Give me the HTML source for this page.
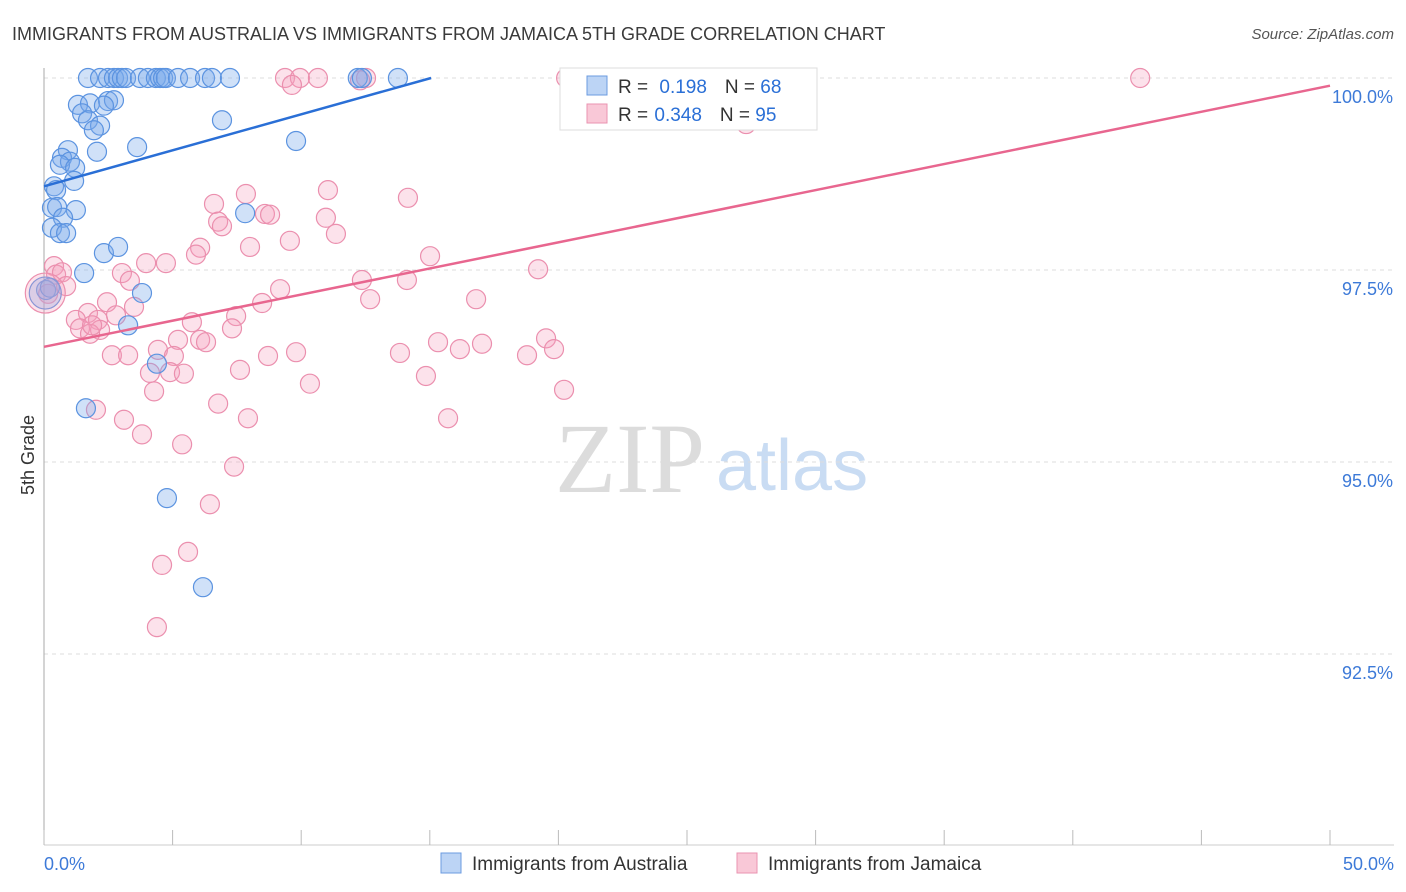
<!DOCTYPE html>
<html><head><meta charset="utf-8">
<style>
body{margin:0;background:#fff;font-family:"Liberation Sans",sans-serif;}
svg{display:block}
</style></head>
<body>
<svg id="chart" width="1406" height="892" viewBox="0 0 1406 892" xmlns="http://www.w3.org/2000/svg">
<text x="12" y="40" font-size="18" fill="#3a3a3a">IMMIGRANTS FROM AUSTRALIA VS IMMIGRANTS FROM JAMAICA 5TH GRADE CORRELATION CHART</text>
<text x="1394" y="39" font-size="15" fill="#555" font-style="italic" text-anchor="end">Source: ZipAtlas.com</text>
<text x="34" y="455" font-size="18" fill="#333" transform="rotate(-90 34 455)" text-anchor="middle">5th Grade</text>
<g>
<text x="555" y="492" font-size="100" font-family="Liberation Serif,serif" fill="#dcdcdc">ZIP</text>
<text x="716" y="490" font-size="72" fill="#c9dcf3">atlas</text>
</g>
<g id="grid"></g>
<g id="axes"></g>
<g id="pts"></g>
<g id="lines"></g>
<g>
<rect x="560" y="68" width="257" height="62" fill="#fff" stroke="#ddd"/>
<rect x="587" y="76" width="20" height="19" fill="#bcd4f5" stroke="#6b9be0"/>
<rect x="587" y="104" width="20" height="19" fill="#f9c8d7" stroke="#ea93b0"/>
<text x="618" y="93" font-size="19" fill="#333">R = <tspan fill="#2a6fd6" dx="6">0.198</tspan><tspan dx="18" fill="#333">N = </tspan><tspan fill="#2a6fd6">68</tspan></text>
<text x="618" y="121" font-size="19" fill="#333">R = <tspan fill="#2a6fd6" dx="1">0.348</tspan><tspan dx="18" fill="#333">N = </tspan><tspan fill="#2a6fd6">95</tspan></text>
</g>
<g>
<rect x="441" y="853" width="20" height="20" fill="#bcd4f5" stroke="#6b9be0"/>
<text x="472" y="870" font-size="19" fill="#333">Immigrants from Australia</text>
<rect x="737" y="853" width="20" height="20" fill="#f9c8d7" stroke="#ea93b0"/>
<text x="768" y="870" font-size="19" fill="#333">Immigrants from Jamaica</text>
</g>
</svg>
<script>
const yTicks=[100,97.5,95,92.5];
const yTickLabels=["100.0%","97.5%","95.0%","92.5%"];
const xTickLabels=["0.0%","50.0%"];
const blueX=[1.71,2.18,2.49,2.72,2.88,3.03,3.19,3.73,4.04,4.35,4.51,4.63,4.74,5.21,5.68,6.26,6.53,7.23,12.2,12.36,13.76,
1.32,1.79,1.48,1.71,2.49,2.72,2.33,2.18,1.94,2.06,0.93,0.70,1.01,0.62,1.21,1.17,0.39,0.47,0.31,0.51,1.24,0.74,0.31,0.62,0.86,3.62,6.92,9.80,2.33,2.88,3.81,1.56,3.27,0.08,0.23,4.39,1.63,4.78,6.18,7.82];
const blueY=[100,100,100,100,100,100,100,100,100,100,100,100,100,100,100,100,100,100,100,100,100,
99.65,99.67,99.54,99.45,99.70,99.71,99.64,99.38,99.32,99.04,99.06,98.96,98.91,98.87,98.83,98.66,98.59,98.54,98.31,98.32,98.28,98.18,98.05,97.98,97.98,99.10,99.45,99.18,97.72,97.80,97.20,97.46,96.78,97.24,97.27,96.28,95.70,94.53,93.37,98.24];
const pinkX=[9.37,9.95,10.65,12.52,20.30,42.62,25.78,9.64,12.29,27.30,6.61,7.85,11.04,14.15,6.77,6.92,8.59,8.79,10.96,11.35,9.56,6.07,5.91,8.01,15.01,3.97,4.74,19.21,12.36,14.11,16.80,12.68,3.03,3.34,0.39,0.47,0.70,0.86,0.16,2.45,3.50,2.80,1.71,2.10,1.24,1.40,2.18,1.79,1.87,8.48,9.18,7.47,7.31,5.75,5.21,6.07,6.30,2.64,3.27,4.43,5.05,4.90,5.44,4.12,4.28,8.71,9.80,10.34,7.62,6.77,7.93,13.84,15.32,16.17,17.03,14.85,18.78,19.52,19.83,20.22,15.71,3.11,3.81,5.37,7.39,2.02,6.45,5.60,4.59,4.39];
const pinkY=[100,100,100,100,100,100,100,99.91,99.97,99.40,98.36,98.49,98.54,98.44,98.13,98.07,98.23,98.22,98.18,97.97,97.88,97.79,97.70,97.80,97.68,97.59,97.59,97.51,97.37,97.37,97.12,97.12,97.46,97.36,97.55,97.44,97.47,97.29,97.19,97.08,97.02,96.91,96.94,96.85,96.85,96.74,96.72,96.67,96.78,97.07,97.25,96.90,96.74,96.82,96.59,96.59,96.56,96.39,96.39,96.46,96.38,96.17,96.15,96.16,95.92,96.38,96.43,96.02,96.20,95.76,95.57,96.42,96.56,96.47,96.54,96.12,96.39,96.61,96.47,95.94,95.57,95.55,95.36,95.23,94.94,95.68,94.45,93.83,93.66,92.85];
const bigPoints=[[0.05,97.2,"blue"],[0.05,97.2,"pink"]];
const blueTrend=[98.59,0.0937];
const pinkTrend=[96.50,0.068];
const X0=44,X1=1330,Y0=78,PX_PER=192/2.5;
function sx(v){return X0+(v/50)*(X1-X0);}
function sy(v){return Y0+(100-v)*PX_PER;}
const NS="http://www.w3.org/2000/svg";
function mk(t,a,p){const e=document.createElementNS(NS,t);for(const k in a)e.setAttribute(k,a[k]);p.appendChild(e);return e;}
const grid=document.getElementById('grid'),axes=document.getElementById('axes'),pts=document.getElementById('pts'),lines=document.getElementById('lines');
yTicks.forEach((t,i)=>{
 const l=mk('line',{x1:44,x2:1394,y1:sy(t),y2:sy(t),stroke:'#ddd','stroke-dasharray':'4,4'},grid);
 
 
 const tx=mk('text',{x:1393,y:sy(t)+25,'font-size':18,fill:'#3d7ad8','text-anchor':'end'},axes);
 tx.textContent=yTickLabels[i];
 
 
});
const ax=mk('line',{x1:44,x2:44,y1:68,y2:845,stroke:'#aaa'},axes);


const bx=mk('line',{x1:44,x2:1394,y1:845,y2:845,stroke:'#ccc'},axes);


for(let v=0;v<=50;v+=5){
 const t=mk('line',{x1:sx(v),x2:sx(v),y1:830,y2:845,stroke:'#bbb'},axes);
 
 
}
[[0,'start',44],[1,'end',1394]].forEach(([i,a,x])=>{
 const t=mk('text',{x:x,y:870,'font-size':18,fill:'#3d7ad8','text-anchor':a},axes);
 t.textContent=xTickLabels[i];
 
 
});
const sty={blue:{fill:'rgba(120,170,235,0.35)',stroke:'#5b93e0'},pink:{fill:'rgba(245,160,190,0.3)',stroke:'#eb8fae'}};
function dot(x,y,c,r){
 const e=mk('circle',{cx:sx(x),cy:sy(y),r:r,fill:sty[c].fill,stroke:sty[c].stroke,'stroke-width':1.2},pts);
 
 
}
pinkX.forEach((x,i)=>dot(x,pinkY[i],'pink',9.5));
blueX.forEach((x,i)=>dot(x,blueY[i],'blue',9.5));
bigPoints.forEach(p=>dot(p[0],p[1],p[2],p[2]==='pink'?20:16));
const bl=mk('line',{x1:sx(0),y1:sy(blueTrend[0]),x2:sx(15.05),y2:sy(blueTrend[0]+blueTrend[1]*15.05),stroke:'#2a6fd6','stroke-width':2.5},lines);


const pl=mk('line',{x1:sx(0),y1:sy(pinkTrend[0]),x2:sx(50),y2:sy(pinkTrend[0]+pinkTrend[1]*50),stroke:'#e8668f','stroke-width':2.5},lines);


</script>
</body></html>
